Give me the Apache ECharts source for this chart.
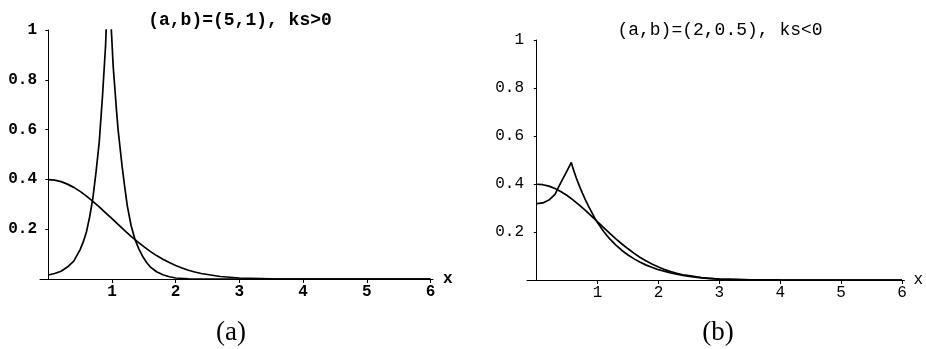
<!DOCTYPE html>
<html>
<head>
<meta charset="utf-8">
<script src="https://cdn.jsdelivr.net/npm/echarts@6/dist/echarts.min.js"></script>
<style>
html, body { margin: 0; padding: 0; background: #fff; }
#main { width: 926px; height: 349px; }
</style>
</head>
<body>
<div id="main"></div>
<script>
// normal-looking curve, same in both panels
const normX = [0, 0.1, 0.2, 0.3, 0.4, 0.5, 0.6, 0.7, 0.8, 0.9, 1.0, 1.1, 1.2, 1.3, 1.4, 1.5, 1.6, 1.7, 1.8, 1.9, 2.0,
  2.1, 2.2, 2.3, 2.4, 2.5, 2.6, 2.7, 2.8, 2.9, 3.0, 3.5, 4, 5, 6];
const normY = [0.399, 0.397, 0.391, 0.381, 0.368, 0.352, 0.333, 0.312, 0.290, 0.266, 0.242, 0.218, 0.194, 0.171, 0.150,
  0.130, 0.111, 0.094, 0.079, 0.066, 0.054, 0.044, 0.035, 0.028, 0.022, 0.018, 0.014, 0.010, 0.008, 0.006, 0.004,
  0.001, 0.0001, 0, 0];

// panel (a): sharp peak near x=1 (goes off the top)
const peakX = [0, 0.1, 0.2, 0.3, 0.4, 0.5, 0.55, 0.6, 0.65, 0.7, 0.75, 0.8, 0.85, 0.9, 0.93, 0.955, 0.975, 0.99, 1.02,
  1.044, 1.07, 1.096, 1.13, 1.16, 1.2, 1.24, 1.3, 1.36, 1.42, 1.49, 1.55, 1.6, 1.7, 1.8, 1.9, 2.0, 2.2, 2.5, 3, 4, 5, 6];
const peakY = [0.016, 0.022, 0.031, 0.048, 0.072, 0.118, 0.15, 0.19, 0.25, 0.325, 0.43, 0.55, 0.73, 0.94, 1.15, 1.4,
  1.2, 1.0, 0.85, 0.77, 0.68, 0.6, 0.52, 0.45, 0.37, 0.295, 0.215, 0.16, 0.122, 0.087, 0.064, 0.049, 0.029, 0.017,
  0.009, 0.004, 0.001, 0, 0, 0, 0, 0];

// panel (b): cusp near x=0.57
const cuspX = [0, 0.1, 0.2, 0.3, 0.35, 0.4, 0.45, 0.5, 0.568, 0.6, 0.65, 0.7, 0.75, 0.8, 0.85, 0.9, 0.95, 1.0, 1.1,
  1.2, 1.3, 1.4, 1.5, 1.6, 1.7, 1.8, 1.9, 2.0, 2.2, 2.4, 2.6, 2.8, 3.0, 3.5, 4, 5, 6];
const cuspY = [0.318, 0.321, 0.333, 0.357, 0.383, 0.408, 0.432, 0.456, 0.49, 0.462, 0.425, 0.392, 0.362, 0.334, 0.308,
  0.284, 0.26, 0.238, 0.202, 0.171, 0.145, 0.123, 0.104, 0.088, 0.074, 0.062, 0.052, 0.043, 0.029, 0.019, 0.012,
  0.007, 0.004, 0.001, 0.0002, 0, 0];

const xTicks = [1, 2, 3, 4, 5, 6];
const yTicks = [0.2, 0.4, 0.6, 0.8, 1];
const titles = ['(a,b)=(5,1), ks>0', '(a,b)=(2,0.5), ks<0'];
const captions = ['(a)', '(b)'];

const pairs = (xs, ys) => xs.map((x, i) => [x, ys[i]]);
const mono = 'Liberation Mono, Courier New, monospace';

function xAx(idx, min, bold, gap) {
  return {
    gridIndex: idx, type: 'value', min: min, max: 6.04,
    name: 'x', nameGap: gap,
    nameTextStyle: { color: '#000', fontFamily: mono, fontSize: 16, fontWeight: bold ? 'bold' : 'normal' },
    axisLine: { onZero: true, lineStyle: { color: '#000', width: 1 } },
    axisTick: { customValues: xTicks, length: 4, lineStyle: { color: '#000' } },
    axisLabel: { customValues: xTicks, margin: 5, color: '#000', fontFamily: mono, fontSize: 16,
      fontWeight: bold ? 'bold' : 'normal' },
    splitLine: { show: false }
  };
}
function yAx(idx, bold) {
  return {
    gridIndex: idx, type: 'value', min: 0, max: 1,
    axisLine: { show: true, onZero: true, lineStyle: { color: '#000', width: 1 } },
    axisTick: { show: true, customValues: yTicks, length: 3, lineStyle: { color: '#000' } },
    axisLabel: { customValues: yTicks, margin: 3, color: '#000', fontFamily: mono, fontSize: 16,
      fontWeight: bold ? 'bold' : 'normal',
      formatter: v => (v === 1 ? '1' : v.toFixed(1)) },
    splitLine: { show: false }
  };
}
const lineStyle = { color: '#000', width: 1.7 };
function ser(idx, data) {
  return { type: 'line', xAxisIndex: idx, yAxisIndex: idx, data: data, symbol: 'none',
    lineStyle: lineStyle, animation: false, clip: true };
}

const chart = echarts.init(document.getElementById('main'));
chart.setOption({
  backgroundColor: '#fff',
  animation: false,
  title: [
    { text: titles[0], left: 240, top: 11, textAlign: 'center', padding: 0,
      textStyle: { fontFamily: mono, fontSize: 18, fontWeight: 'bold', color: '#000' } },
    { text: titles[1], left: 720, top: 21, textAlign: 'center', padding: 0,
      textStyle: { fontFamily: mono, fontSize: 18, fontWeight: 'normal', color: '#000' } },
    { text: captions[0], left: 231, top: 319, textAlign: 'center', padding: 0,
      textStyle: { fontFamily: 'Liberation Serif, serif', fontSize: 27, fontWeight: 'normal', color: '#000' } },
    { text: captions[1], left: 718, top: 319, textAlign: 'center', padding: 0,
      textStyle: { fontFamily: 'Liberation Serif, serif', fontSize: 27, fontWeight: 'normal', color: '#000' } }
  ],
  grid: [
    { left: 40, top: 30, width: 393, height: 249 },
    { left: 527, top: 40, width: 382, height: 240 }
  ],
  xAxis: [xAx(0, -0.13, true, 10), xAx(1, -0.16, false, 9)],
  yAxis: [yAx(0, true), yAx(1, false)],
  series: [
    ser(0, pairs(normX, normY)),
    ser(0, pairs(peakX, peakY)),
    ser(1, pairs(normX, normY)),
    ser(1, pairs(cuspX, cuspY))
  ]
});
</script>
</body>
</html>
